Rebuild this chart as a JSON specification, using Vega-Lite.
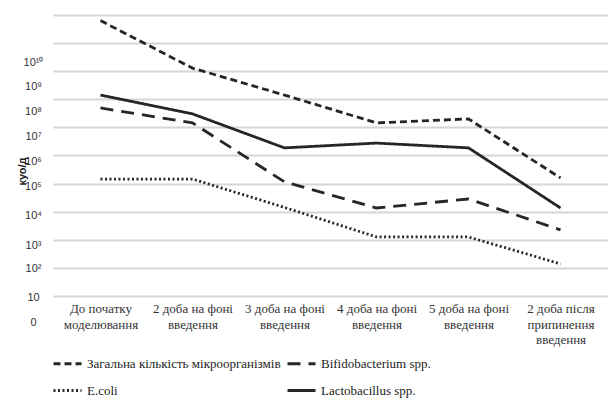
{
  "$schema": "https://vega.github.io/schema/vega-lite/v6.json",
  "autosize": {"type": "none"},
  "width": 555,
  "height": 309,
  "padding": {"left": 53, "top": 15, "right": 0, "bottom": 76},
  "background": "white",
  "config": {"view": {"stroke": null}},
  "data": {"values": [
    {"period": "До початку\nмоделювання", "series": "Загальна кількість мікроорганізмів", "lg": 9.80},
    {"period": "2 доба на фоні\nвведення", "series": "Загальна кількість мікроорганізмів", "lg": 8.11},
    {"period": "3 доба на фоні\nвведення", "series": "Загальна кількість мікроорганізмів", "lg": 7.15},
    {"period": "4 доба на фоні\nвведення", "series": "Загальна кількість мікроорганізмів", "lg": 6.16},
    {"period": "5 доба на фоні\nвведення", "series": "Загальна кількість мікроорганізмів", "lg": 6.30},
    {"period": "2 доба  після\nприпинення\nвведення", "series": "Загальна кількість мікроорганізмів", "lg": 4.20},
    {"period": "До початку\nмоделювання", "series": "E.coli", "lg": 4.16},
    {"period": "2 доба на фоні\nвведення", "series": "E.coli", "lg": 4.16},
    {"period": "3 доба на фоні\nвведення", "series": "E.coli", "lg": 3.15},
    {"period": "4 доба на фоні\nвведення", "series": "E.coli", "lg": 2.10},
    {"period": "5 доба на фоні\nвведення", "series": "E.coli", "lg": 2.10},
    {"period": "2 доба  після\nприпинення\nвведення", "series": "E.coli", "lg": 1.14},
    {"period": "До початку\nмоделювання", "series": "Bifidobacterium spp.", "lg": 6.69},
    {"period": "2 доба на фоні\nвведення", "series": "Bifidobacterium spp.", "lg": 6.16},
    {"period": "3 доба на фоні\nвведення", "series": "Bifidobacterium spp.", "lg": 4.06},
    {"period": "4 доба на фоні\nвведення", "series": "Bifidobacterium spp.", "lg": 3.13},
    {"period": "5 доба на фоні\nвведення", "series": "Bifidobacterium spp.", "lg": 3.45},
    {"period": "2 доба  після\nприпинення\nвведення", "series": "Bifidobacterium spp.", "lg": 2.35},
    {"period": "До початку\nмоделювання", "series": "Lactobacillus spp.", "lg": 7.15},
    {"period": "2 доба на фоні\nвведення", "series": "Lactobacillus spp.", "lg": 6.48},
    {"period": "3 доба на фоні\nвведення", "series": "Lactobacillus spp.", "lg": 5.27},
    {"period": "4 доба на фоні\nвведення", "series": "Lactobacillus spp.", "lg": 5.44},
    {"period": "5 доба на фоні\nвведення", "series": "Lactobacillus spp.", "lg": 5.27},
    {"period": "2 доба  після\nприпинення\nвведення", "series": "Lactobacillus spp.", "lg": 3.13}
  ]},
  "mark": {"type": "line", "strokeWidth": 2.8, "color": "#262626", "strokeCap": "butt"},
  "encoding": {
    "x": {
      "field": "period", "type": "nominal", "sort": null,
      "scale": {"type": "point", "padding": 0.516},
      "axis": {
        "title": null, "domain": false, "ticks": false, "tickSize": 0, "grid": false,
        "labelAngle": 0, "labelFont": "Liberation Serif", "labelFontSize": 13, "labelColor": "#333333",
        "labelLineHeight": 15.5, "labelBaseline": "top", "labelPadding": 7, "offset": -28.1,
        "labelExpr": "split(datum.label, '\\n')", "labelOverlap": false, "labelBound": false, "labelLimit": 200,
        "encode": {"labels": {"update": {"dx": {"signal": "-1 - 20*datum.index"}}}}
      }
    },
    "y": {
      "field": "lg", "type": "quantitative",
      "scale": {"domain": [-1, 10], "nice": false, "zero": false},
      "axis": {
        "title": "куо/д", "titleFont": "Liberation Sans", "titleFontWeight": "bold", "titleFontSize": 11,
        "titleColor": "#222222", "titleAngle": -90, "titleX": -31, "titleY": 156,
        "titleAlign": "center", "titleBaseline": "middle",
        "domain": false, "ticks": false, "tickSize": 0,
        "grid": true, "gridWidth": 2,
        "gridColor": {"condition": {"test": "datum.value == floor(datum.value) && datum.value >= 0", "value": "#d6d6d6"}, "value": "transparent"},
        "values": [0, 1, 2, 3, 4, 5, 6, 7, 8, 9, 10, 8.31, 7.47, 6.55, 5.66, 4.8, 3.88, 2.85, 1.81, 0.99, -0.04, -0.96],
        "labelExpr": "indexof([8.31,7.47,6.55,5.66,4.8,3.88,2.85,1.81,0.99,-0.04,-0.96], datum.value) < 0 ? '' : ['10¹⁰','10⁹','10⁸','10⁷','10⁶','10⁵','10⁴','10³','10²','10','0'][indexof([8.31,7.47,6.55,5.66,4.8,3.88,2.85,1.81,0.99,-0.04,-0.96], datum.value)]",
        "labelAlign": "center", "labelBaseline": "middle", "labelPadding": 20,
        "labelFont": "Liberation Sans", "labelFontSize": 11, "labelColor": "#333333",
        "labelOverlap": false, "labelBound": false, "labelFlush": false
      }
    },
    "strokeDash": {
      "field": "series", "type": "nominal",
      "scale": {
        "domain": ["Загальна кількість мікроорганізмів", "E.coli", "Bifidobacterium spp.", "Lactobacillus spp."],
        "range": [[7, 4], [2, 2.5], [13, 8], [1, 0]]
      },
      "legend": {
        "orient": "none", "legendX": -1, "legendY": 333, "columns": 2, "title": null,
        "symbolType": "stroke", "symbolSize": 784, "symbolStrokeWidth": 2.8, "symbolStrokeColor": "#262626",
        "labelFont": "Liberation Serif", "labelFontSize": 13, "labelColor": "#222222", "labelOffset": 4,
        "columnPadding": 0, "rowPadding": 4, "padding": 0, "labelLimit": 400
      }
    }
  }
}
